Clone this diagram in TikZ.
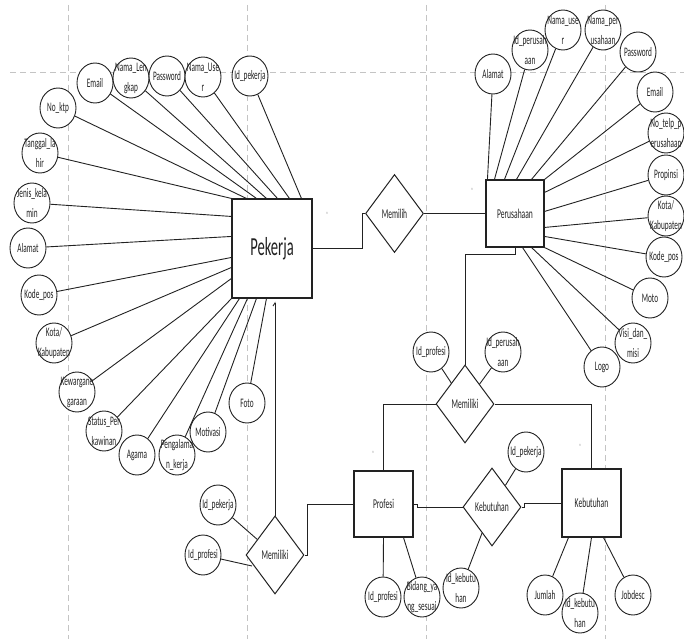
\documentclass[tikz,border=0pt]{standalone}
\usepackage{fontspec}
\setmainfont{Carlito}[FakeStretch=0.56]
\usetikzlibrary{shapes.geometric,arrows.meta}
\definecolor{ln}{HTML}{222222}
\definecolor{guide}{HTML}{C4C4C4}
\tikzset{
 attrc/.style={ellipse,draw=ln,line width=0.9pt,fill=white,minimum width=36pt,minimum height=40pt,inner sep=0pt},
 attrt/.style={align=center,font=\fontsize{13}{20}\selectfont,text=ln,inner sep=0pt},
 ent/.style={draw=ln,line width=1.1pt,fill=white,inner sep=0pt,font=\fontsize{13.5}{15}\selectfont,text=ln},
 rel/.style={diamond,draw=ln,line width=1pt,fill=white,minimum width=58pt,minimum height=78pt,inner sep=0pt,font=\fontsize{13.5}{15}\selectfont,text=ln},
 conn/.style={draw=ln,line width=0.9pt},
 guideline/.style={draw=guide,line width=0.8pt,dash pattern=on 6pt off 4pt},
 card/.style={font=\fontsize{4.5}{5}\selectfont,text=gray,inner sep=0pt}
}
\newcommand\attrib[3]{\node[attrc] (#1) at (#2) {}; \node[attrt] (#1t) at (#1.center) {#3};}
\begin{document}
\begin{tikzpicture}[x=1pt,y=-1pt]
\useasboundingbox (0,0) rectangle (684,639);
% guide lines
\draw[guideline] (10,72) -- (684,72);
\draw[guideline] (68,5) -- (68,639);
\draw[guideline] (247,5) -- (247,639);
\draw[guideline] (426,5) -- (426,639);
\draw[guideline] (605,5) -- (605,639);
% entities
\node[ent,minimum width=80pt,minimum height=99pt,font=\fontsize{26}{30}\selectfont] (pk) at (272,248.5) {Pekerja};
\node[ent,minimum width=58pt,minimum height=67pt] (ps) at (515,213.5) {Perusahaan};
\node[ent,minimum width=59pt,minimum height=66pt] (pf) at (383.5,504) {Profesi};
\node[ent,minimum width=59pt,minimum height=68pt] (kb) at (591.5,503) {Kebutuhan};
% relationships
\node[rel] (mem) at (394.5,213.5) {Memilih};
\node[rel] (ma) at (465,404) {Memiliki};
\node[rel] (mb) at (275,555) {Memiliki};
\node[rel] (kr) at (492,507) {Kebutuhan};
% Pekerja attributes
\attrib{em1}{95,83}{Email}
\attrib{nl}{131,78}{Nama\_Len\\gkap}
\attrib{pw1}{167,76}{Password}
\attrib{nu1}{203,77}{Nama\_Use\\r}
\attrib{idp}{250,76}{Id\_pekerja}
\attrib{nk}{58,108}{No\_ktp}
\attrib{tl}{40,153}{Tanggal\_la\\hir}
\attrib{jk}{32,203}{Jenis\_kela\\min}
\attrib{al1}{28,248}{Alamat}
\attrib{kp1}{39,295}{Kode\_pos}
\attrib{kk1}{54,343}{Kota/\\Kabupaten}
\attrib{kw}{77,392}{Kewargane\\garaan}
\attrib{sp}{104,431}{Status\_Per\\kawinan}
\attrib{ag}{137,455}{Agama}
\attrib{pg}{177,455}{Pengalama\\n\_kerja}
\attrib{mo}{208,432}{Motivasi}
\attrib{ft}{247,403}{Foto}
% Perusahaan attributes
\attrib{al2}{493,74}{Alamat}
\attrib{ipr}{530,50}{Id\_perusah\\aan}
\attrib{nu2}{563,30}{Nama\_use\\r}
\attrib{npr}{603,30}{Nama\_per\\usahaan}
\attrib{pw2}{638,52}{Password}
\attrib{em2}{655,92}{Email}
\attrib{nt}{666,133}{No\_telp\_p\\erusahaan}
\attrib{pr}{666,175}{Propinsi}
\attrib{kk2}{666,216}{Kota/\\Kabupaten}
\attrib{kp2}{664,257}{Kode\_pos}
\attrib{mt}{650,298}{Moto}
\attrib{vm}{633,343}{Visi\_dan\_\\misi}
\attrib{lg}{602,367}{Logo}
% relationship / other attributes
\attrib{ipf1}{431,352}{Id\_profesi}
\attrib{ipr2}{503,352}{Id\_perusah\\aan}
\attrib{ipk2}{218,505}{Id\_pekerja}
\attrib{ipf2}{203,555}{Id\_profesi}
\attrib{ipf3}{383,597}{Id\_profesi}
\attrib{bys}{422,597}{Bidang\_ya\\ng\_sesuai}
\attrib{ipk3}{526,452}{Id\_pekerja}
\attrib{ikb1}{461,588}{Id\_kebutu\\han}
\attrib{jm}{545,595}{Jumlah}
\attrib{ikb2}{580,613}{Id\_kebutu\\han}
\attrib{jd}{633,595}{Jobdesc}
% cardinality marks
\node[card] (c1) at (327,213) {n};
\node[card] (c2) at (472,189) {n};
\node[card] (c3) at (373,452) {n};
\node[card] (c4) at (580,445) {n};
% Pekerja attribute lines
\draw[conn] (tl) -- (pk.north west);
\draw[conn] (nk) -- ([xshift=15pt]pk.north west);
\draw[conn] (em1) -- ([xshift=25pt]pk.north west);
\draw[conn] (nl) -- ([xshift=35pt]pk.north west);
\draw[conn] (pw1) -- ([xshift=46pt]pk.north west);
\draw[conn] (nu1) -- ([xshift=58pt]pk.north west);
\draw[conn] (idp) -- ([xshift=70pt]pk.north west);
\draw[conn] (jk) -- ([yshift=-18pt]pk.north west);
\draw[conn] (al1) -- ([yshift=-38pt]pk.north west);
\draw[conn] (kp1) -- ([yshift=-59pt]pk.north west);
\draw[conn] (kk1) -- ([yshift=-69pt]pk.north west);
\draw[conn] (kw) -- ([yshift=-80pt]pk.north west);
\draw[conn] (sp) -- (pk.south west);
\draw[conn] (ag) -- ([xshift=8pt]pk.south west);
\draw[conn] (pg) -- ([xshift=16pt]pk.south west);
\draw[conn] (mo) -- ([xshift=25pt]pk.south west);
\draw[conn] (ft) -- ([xshift=35pt]pk.south west);
% Perusahaan attribute lines
\draw[conn] (al2) -- ([xshift=2pt]ps.north west);
\draw[conn] (ipr) -- ([xshift=9pt]ps.north west);
\draw[conn] (nu2) -- ([xshift=19pt]ps.north west);
\draw[conn] (npr) -- ([xshift=31pt]ps.north west);
\draw[conn] (pw2) -- ([xshift=46pt]ps.north west);
\draw[conn] (em2) -- (ps.north east);
\draw[conn] (nt) -- ([yshift=-13pt]ps.north east);
\draw[conn] (pr) -- ([yshift=-32pt]ps.north east);
\draw[conn] (kk2) -- ([yshift=-48pt]ps.north east);
\draw[conn] (kp2) -- ([yshift=-57pt]ps.north east);
\draw[conn] (mt) -- (ps.south east);
\draw[conn] (vm) -- ([xshift=-13pt]ps.south east);
\draw[conn] (lg) -- ([xshift=-22pt]ps.south east);
% other attribute lines
\draw[conn] (ipf1) -- (ma);
\draw[conn] (ipr2) -- (ma);
\draw[conn] (ipk2) -- (mb);
\draw[conn] (ipf2) -- ([xshift=-23pt,yshift=-11pt]mb.center);
\draw[conn] (ipf3) -- (pf.south);
\draw[conn] (bys) -- ([xshift=20pt]pf.south);
\draw[conn] (ipk3) -- (kr);
\draw[conn] (ikb1) -- (kr);
\draw[conn] (jm) -- ([xshift=-23pt]kb.south);
\draw[conn] (ikb2) -- (kb.south);
\draw[conn] (jd) -- ([xshift=12pt]kb.south);
% relationship connectors
\draw[conn] (pk.east) -- ++(50,0) |- (mem.west);
\draw[conn] (mem.east) -- (ps.west);
\draw[conn] (ps.south) -- ++(0,7) -| (ma.north);
\draw[conn] (ma.west) -| (pf.north);
\draw[conn] (ma.east) -| (kb.north);
\draw[conn] (pf.east) -- ++(4,0) |- (kr.west);
\draw[conn] (kr.east) -- ++(3,0) |- (kb.west);
\draw[conn] (pf.west) -- ++(-46,0) |- (mb.east);
\draw[conn,-{Straight Barb[left,length=3pt,width=4pt]}] (mb.north) -- ([yshift=-3pt]pk.south -| mb.north);
\end{tikzpicture}
\end{document}
